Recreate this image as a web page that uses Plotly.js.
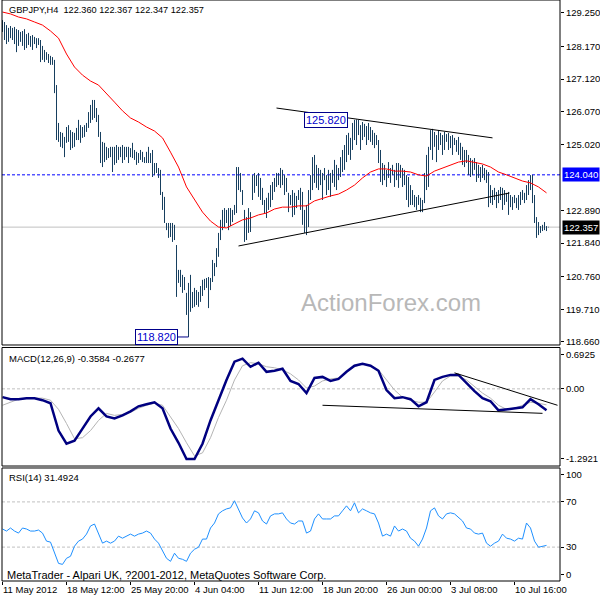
<!DOCTYPE html>
<html>
<head>
<meta charset="utf-8">
<script src="https://cdn.plot.ly/plotly-3.0.1.min.js"></script>
<style>
  html, body { margin: 0; padding: 0; background: #fff; }
  #grafico { width: 600px; height: 600px; }
</style>
</head>
<body>
<div id="grafico"></div>
<script>
/* ========= DADOS (GBPJPY H4) ========= */

// máximas e mínimas de cada barra H4 (uma por barra, da esquerda para a direita)
const barHigh = [
  129.02, 128.96, 128.86, 128.77, 128.83, 128.77, 128.8, 128.73, 128.7, 128.64,
  128.67, 128.73, 128.57, 128.61, 128.51, 128.54, 128.48, 128.44, 128.44, 128.38,
  128.19, 128.06, 127.99, 127.93, 127.87, 127.83, 127.74, 126.93, 125.71, 125.42,
  125.39, 125.26, 125.58, 125.64, 125.48, 125.42, 125.39, 125.55, 125.81, 125.64,
  125.58, 125.64, 125.71, 126.06, 126.29, 126.45, 126.45, 126.19, 125.97, 125.42,
  125.1, 125.07, 124.94, 124.9, 124.94, 124.94, 124.94, 125.0, 124.94, 124.94,
  125.0, 124.94, 124.94, 124.94, 124.9, 125.07, 124.84, 124.78, 124.74, 124.84,
  124.78, 124.61, 124.78, 124.94, 124.74, 124.84, 124.42, 124.42, 124.26, 124.2,
  123.49, 123.33, 122.49, 122.49, 122.49, 122.49, 122.43, 121.78, 120.98, 120.98,
  120.82, 120.75, 120.24, 120.56, 120.82, 120.27, 120.4, 120.33, 120.27, 120.46,
  120.66, 120.69, 120.72, 120.75, 120.72, 121.3, 121.2, 121.68, 122.17, 122.59,
  122.91, 122.97, 122.91, 122.97, 122.97, 122.91, 123.07, 124.29, 124.29, 124.1,
  123.55, 122.91, 122.68, 122.97, 122.84, 124.03, 124.1, 124.03, 124.1, 123.94,
  123.62, 123.23, 123.3, 123.46, 123.71, 123.81, 123.94, 124.1, 124.1, 124.26,
  124.2, 124.03, 123.94, 123.46, 123.39, 123.55, 123.46, 123.36, 123.55, 123.62,
  123.49, 122.91, 123.07, 123.55, 124.03, 124.61, 124.68, 124.36, 124.26, 124.2,
  124.1, 124.26, 124.03, 124.2, 124.1, 124.2, 124.52, 124.36, 124.26, 124.61,
  124.84, 125.0, 125.32, 125.39, 125.23, 125.71, 125.81, 125.82, 125.81, 125.64,
  125.74, 125.68, 125.61, 125.71, 125.58, 125.48, 125.39, 125.32, 125.16, 124.84,
  124.42, 124.36, 124.2, 124.45, 124.26, 124.36, 124.2, 124.42, 124.42, 124.36,
  124.26, 124.2, 124.03, 123.97, 123.71, 123.55, 123.39, 123.33, 123.39, 123.3,
  123.23, 124.1, 124.68, 124.94, 125.48, 125.52, 125.42, 125.32, 125.48, 125.39,
  125.32, 125.42, 125.35, 125.39, 125.29, 125.32, 125.23, 125.16, 125.26, 125.07,
  124.94, 124.84, 124.84, 124.68, 124.58, 124.52, 124.58, 124.45, 124.36, 124.29,
  124.36, 124.26, 124.2, 124.13, 123.71, 123.55, 123.62, 123.49, 123.55, 123.65,
  123.62, 123.55, 123.46, 123.49, 123.39, 123.33, 123.39, 123.3, 123.39, 123.49,
  123.55, 123.46, 123.71, 123.87, 124.03, 124.04, 123.39, 122.68, 122.52, 122.39,
  122.43, 122.52, 122.39, 122.367,
];
const barLow = [
  128.64, 128.38, 128.25, 128.32, 128.44, 128.38, 128.25, 127.99, 128.19, 128.32,
  128.19, 128.06, 128.12, 128.22, 128.16, 128.06, 128.25, 128.12, 128.22, 127.67,
  127.74, 127.67, 127.74, 127.64, 127.58, 127.58, 126.67, 125.16, 125.1, 124.94,
  124.9, 124.61, 125.07, 125.1, 124.84, 124.9, 124.94, 125.16, 125.16, 125.07,
  125.23, 125.26, 125.42, 125.55, 125.71, 125.81, 125.87, 125.74, 125.26, 124.42,
  124.29, 124.45, 124.52, 124.58, 124.61, 124.13, 124.36, 124.42, 124.52, 124.61,
  124.42, 124.52, 124.61, 124.42, 124.61, 124.58, 124.52, 124.36, 124.42, 124.52,
  124.45, 124.42, 124.42, 124.42, 124.42, 123.97, 124.03, 124.1, 123.94, 123.39,
  122.91, 122.49, 122.26, 122.01, 122.04, 121.88, 121.94, 120.11, 120.56, 120.43,
  120.24, 120.33, 119.53, 118.82, 119.63, 119.75, 119.79, 119.85, 119.79, 119.95,
  120.14, 120.33, 120.4, 119.75, 120.33, 120.59, 120.78, 121.07, 121.4, 121.94,
  122.26, 122.36, 122.49, 122.26, 122.39, 122.52, 122.75, 122.81, 123.55, 123.49,
  123.07, 121.88, 121.94, 122.17, 122.2, 123.23, 123.46, 123.68, 123.33, 123.23,
  123.07, 122.81, 122.65, 122.91, 123.0, 123.23, 123.49, 123.65, 123.71, 123.62,
  123.71, 123.39, 123.49, 122.84, 123.07, 122.68, 122.75, 122.97, 123.23, 122.91,
  122.43, 122.17, 122.1, 122.36, 123.23, 123.55, 123.78, 123.62, 123.55, 123.71,
  123.23, 123.87, 123.39, 123.55, 123.33, 123.78, 123.65, 123.55, 123.87, 123.97,
  124.13, 124.2, 124.45, 124.68, 124.52, 124.84, 125.16, 125.0, 125.32, 124.84,
  125.16, 125.26, 125.0, 125.16, 125.1, 125.0, 124.9, 125.0, 124.42, 123.81,
  123.71, 123.87, 123.65, 123.94, 123.78, 124.03, 123.65, 123.87, 123.62, 123.94,
  123.65, 123.71, 123.23, 123.0, 123.07, 123.07, 123.0, 122.91, 123.07, 122.84,
  122.84, 123.13, 123.55, 123.65, 124.84, 124.52, 124.94, 124.45, 124.84, 125.0,
  124.68, 124.84, 125.1, 124.84, 124.9, 124.68, 125.0, 124.78, 124.68, 124.52,
  124.36, 124.29, 124.42, 124.03, 123.97, 124.03, 124.2, 123.81, 123.94, 123.81,
  123.94, 123.87, 123.78, 123.0, 123.13, 123.07, 123.23, 122.97, 123.13, 123.23,
  122.91, 123.07, 123.17, 122.75, 123.0, 122.91, 123.13, 122.97, 122.91, 123.07,
  123.23, 123.13, 123.23, 123.39, 123.55, 123.13, 122.49, 122.01, 122.1, 122.17,
  122.23, 122.26, 122.23, 122.347,
];

// média móvel (vermelha), lida a cada 4 barras
const MA_STEP = 4;
const maValues = [
  129.28, 129.22, 129.12, 129.06, 128.96, 128.86, 128.67, 128.44, 127.93, 127.51,
  127.25, 127.06, 126.93, 126.67, 126.38, 126.1, 125.87, 125.74, 125.58, 125.45,
  125.23, 124.77, 124.29, 123.65, 123.23, 122.84, 122.55, 122.36, 122.33, 122.46,
  122.59, 122.65, 122.75, 122.81, 122.94, 123.0, 123.0, 123.04, 123.04, 123.2,
  123.29, 123.36, 123.42, 123.55, 123.71, 123.94, 124.13, 124.23, 124.23, 124.16,
  124.16, 124.13, 124.04, 124.0, 124.16, 124.26, 124.36, 124.45, 124.49, 124.45,
  124.39, 124.29, 124.13, 124.04, 123.94, 123.84, 123.78, 123.65, 123.46,
];

// MACD(12,26,9), lido a cada 4 barras
const MACD_STEP = 4;
const macdMain = [
  -0.139, -0.173, -0.173, -0.156, -0.156, -0.19, -0.241, -0.699, -0.919, -0.869,
  -0.665, -0.462, -0.326, -0.462, -0.496, -0.444, -0.377, -0.292, -0.258, -0.224,
  -0.326, -0.665, -0.903, -1.174, -1.174, -0.919, -0.529, -0.173, 0.149, 0.455,
  0.506, 0.37, 0.438, 0.285, 0.302, 0.336, 0.132, 0.081, -0.071, 0.183,
  0.2, 0.132, 0.166, 0.285, 0.387, 0.421, 0.387, 0.302, -0.02, -0.156,
  -0.139, -0.173, -0.292, -0.224, 0.149, 0.2, 0.234, 0.234, 0.098, -0.037,
  -0.156, -0.207, -0.36, -0.343, -0.326, -0.309, -0.173, -0.258, -0.358,
];
const macdSignal = [
  -0.275, -0.224, -0.173, -0.156, -0.156, -0.156, -0.19, -0.343, -0.58, -0.835,
  -0.818, -0.699, -0.529, -0.411, -0.444, -0.428, -0.394, -0.326, -0.275, -0.241,
  -0.275, -0.462, -0.665, -0.903, -1.123, -1.072, -0.818, -0.479, -0.19, 0.149,
  0.387, 0.438, 0.421, 0.37, 0.353, 0.319, 0.251, 0.149, 0.014, 0.047,
  0.132, 0.166, 0.183, 0.285, 0.37, 0.421, 0.387, 0.319, 0.149, -0.02,
  -0.139, -0.19, -0.224, -0.224, -0.054, 0.132, 0.217, 0.217, 0.149, 0.031,
  -0.071, -0.156, -0.275, -0.343, -0.326, -0.275, -0.224, -0.241, -0.268,
];

// RSI(14), lido a cada 2 barras
const RSI_STEP = 2;
const rsiValues = [
  46.0, 44.2, 46.9, 44.2, 42.4, 46.9, 46.0, 44.2, 44.2, 45.1,
  42.4, 35.3, 34.4, 24.6, 15.6, 14.7, 20.1, 21.9, 30.8, 35.3,
  37.1, 41.5, 48.7, 50.4, 42.4, 33.5, 35.3, 33.5, 35.3, 39.7,
  37.9, 39.7, 41.5, 39.7, 41.5, 42.4, 44.2, 42.4, 37.1, 33.5,
  26.3, 20.1, 17.4, 24.6, 20.1, 19.2, 17.4, 24.6, 28.1, 29.9,
  37.1, 37.1, 46.9, 51.3, 59.4, 62.1, 63.8, 64.7, 71.0, 63.8,
  55.8, 51.3, 54.9, 62.1, 60.3, 53.1, 50.4, 57.6, 59.4, 59.4,
  60.3, 54.9, 51.3, 50.4, 53.1, 53.1, 42.4, 44.2, 54.9, 59.4,
  54.9, 54.9, 54.9, 57.6, 57.6, 62.1, 66.5, 62.1, 69.2, 60.3,
  63.8, 62.1, 60.3, 59.4, 51.3, 39.7, 41.5, 39.7, 48.7, 44.2,
  46.0, 44.2, 37.9, 35.3, 30.8, 37.1, 46.9, 62.1, 64.7, 57.6,
  54.9, 59.4, 60.3, 59.4, 55.8, 53.1, 46.9, 46.0, 42.4, 41.5,
  42.4, 33.5, 30.8, 33.5, 35.3, 41.5, 37.9, 37.1, 35.3, 37.9,
  37.1, 51.3, 46.9, 35.3, 29.9, 30.8, 31.5,
];

// escalas (123.970 fica escondido sob a etiqueta azul)
const priceTicks = [129.25, 128.17, 127.12, 126.07, 125.02, 122.89, 121.84, 120.76, 119.71, 118.66];
const timeTickBars = [0, 32, 64, 96, 128, 160, 192, 224, 256];
const timeLabels = [
  "11 May 2012", "18 May 12:00", "25 May 20:00", "4 Jun 04:00", "11 Jun 12:00",
  "18 Jun 20:00", "26 Jun 00:00", "3 Jul 08:00", "10 Jul 16:00",
];

// níveis e linhas de tendência desenhadas no gráfico
const resistLevel = 124.04;
const lastPrice = 122.357;
const peakBar = 177, peakPrice = 125.82;
const troughBar = 93, troughPrice = 118.82;
const upperTrendBars = [137, 245], upperTrendPrices = [126.19, 125.23];
const lowerTrendBars = [118, 253.5], lowerTrendPrices = [121.75, 123.455];
const macdLowBars = [160, 270], macdLowValues = [-0.275, -0.41];
const macdHighBars = [226, 277.5], macdHighValues = [0.268, -0.275];

/* ========= RENDERIZAÇÃO ========= */
const FONTE = "Tahoma, 'Liberation Sans', Arial, sans-serif";

function montarBarras() {
  const x = [], y = [];
  barHigh.forEach((h, i) => {
    x.push(i, i, null);
    y.push(barLow[i], h, null);
  });
  return { x, y };
}

function indices(valores, passo) {
  return valores.map((_, k) => k * passo);
}

function linhaH(yref, valor, cor, tracejado) {
  return {
    type: "line", xref: "paper", x0: 0, x1: 1, yref: yref, y0: valor, y1: valor,
    line: { color: cor, width: 1, dash: tracejado ? "3px,2px" : "solid" },
    layer: "below",
  };
}

function tendencia(yref, xs, ys) {
  return {
    type: "line", xref: "x", yref: yref, x0: xs[0], x1: xs[1], y0: ys[0], y1: ys[1],
    line: { color: "#000", width: 1 }, layer: "above",
  };
}

function moldura(yref) {
  return {
    type: "rect", xref: "paper", yref: yref + " domain", x0: 0, x1: 1, y0: 0, y1: 1,
    line: { color: "#000", width: 1 }, layer: "above",
  };
}

function texto(x, y, t, extra) {
  return Object.assign({
    xref: "paper", yref: "paper", x: x, y: y, text: t, showarrow: false,
    xanchor: "left", yanchor: "middle", font: { size: 9.5, color: "#000" },
  }, extra || {});
}

function desenhar() {
  const barras = montarBarras();

  const traces = [
    {
      x: barras.x, y: barras.y, type: "scatter", mode: "lines",
      line: { color: "#173f5f", width: 1 }, hoverinfo: "skip",
    },
    {
      x: indices(maValues, MA_STEP), y: maValues, type: "scatter", mode: "lines",
      line: { color: "#ff0000", width: 1 },
    },
    {
      x: indices(macdSignal, MACD_STEP), y: macdSignal, yaxis: "y2",
      type: "scatter", mode: "lines", line: { color: "#b4b4b4", width: 1 },
    },
    {
      x: indices(macdMain, MACD_STEP), y: macdMain, yaxis: "y2",
      type: "scatter", mode: "lines", line: { color: "#000080", width: 2.5 },
    },
    {
      x: indices(rsiValues, RSI_STEP), y: rsiValues, yaxis: "y3",
      type: "scatter", mode: "lines", line: { color: "#1e90ff", width: 1 },
    },
  ];

  const eixoDireita = {
    side: "right", ticks: "outside", ticklen: 3, tickcolor: "#000",
    showgrid: false, zeroline: false, showline: false, fixedrange: true,
    tickfont: { size: 9.5, color: "#000" },
  };

  const layout = {
    width: 600, height: 600,
    margin: { l: 2, r: 40, t: 0, b: 19 },
    paper_bgcolor: "#fff", plot_bgcolor: "#fff",
    showlegend: false,
    font: { family: FONTE, size: 9.5, color: "#000" },
    xaxis: {
      range: [-0.25, 278.75], anchor: "y3",
      tickmode: "array", tickvals: timeTickBars, ticktext: timeLabels,
      ticks: "outside", ticklen: 3, tickcolor: "#000", tickangle: 0,
      ticklabelposition: "outside right",
      showgrid: false, zeroline: false, showline: false, fixedrange: true,
      tickfont: { size: 9.5, color: "#000" },
    },
    yaxis: Object.assign({}, eixoDireita, {
      domain: [0.4062, 1], range: [118.562, 129.668],
      tickmode: "array", tickvals: priceTicks, tickformat: ".3f",
    }),
    yaxis2: Object.assign({}, eixoDireita, {
      domain: [0.1979, 0.4019], range: [-1.2921, 0.6925],
      tickmode: "array", tickvals: [0.574, 0, -1.174], ticktext: ["0.6925", "0.00", "-1.2921"],
    }),
    yaxis3: Object.assign({}, eixoDireita, {
      domain: [0, 0.1945], range: [0, 100],
      tickmode: "array", tickvals: [94, 70, 30, 5.5], ticktext: ["100", "70", "30", "0"],
    }),
    shapes: [
      linhaH("y", lastPrice, "#c0c0c0", false),
      linhaH("y", resistLevel, "#0000ff", true),
      linhaH("y2", 0, "#c0c0c0", true),
      linhaH("y3", 70, "#c0c0c0", true),
      linhaH("y3", 30, "#c0c0c0", true),
      tendencia("y", upperTrendBars, upperTrendPrices),
      tendencia("y", lowerTrendBars, lowerTrendPrices),
      tendencia("y2", macdLowBars, macdLowValues),
      tendencia("y2", macdHighBars, macdHighValues),
      moldura("y"),
      moldura("y2"),
      moldura("y3"),
    ],
    annotations: [
      texto(0.009, 0.983, "GBPJPY,H4\u00a0\u00a0122.360 122.367 122.347 122.357", { font: { size: 9.2, color: "#000" } }),
      texto(0.009, 0.3838, "MACD(12,26,9) -0.3584 -0.2677"),
      texto(0.009, 0.1773, "RSI(14) 31.4924"),
      texto(0.005, 0.0103, "MetaTrader - Alpari UK, ?2001-2012, MetaQuotes Software Corp.", { font: { size: 11, color: "#000" } }),
      texto(0.697, 0.48, "ActionForex.com", { xanchor: "center", font: { size: 24, color: "#b8b8b8" } }),
      {
        xref: "x", yref: "y", x: peakBar, y: peakPrice, text: "125.820", showarrow: false,
        xanchor: "right", yanchor: "middle", xshift: -9,
        bgcolor: "#fff", bordercolor: "#00008b", borderwidth: 1, borderpad: 1,
        font: { size: 11, color: "#0000cd" },
      },
      {
        xref: "x", yref: "y", x: troughBar, y: troughPrice, text: "118.820",
        showarrow: true, arrowhead: 0, arrowwidth: 1, arrowcolor: "#00008b", ax: -32, ay: 0,
        bgcolor: "#fff", bordercolor: "#00008b", borderwidth: 1, borderpad: 1,
        font: { size: 11, color: "#0000cd" },
      },
      {
        xref: "paper", yref: "y", x: 1, y: resistLevel, text: "124.040", showarrow: false,
        xanchor: "left", yanchor: "middle", xshift: 2,
        bgcolor: "#0000ff", borderpad: 1, font: { size: 9.5, color: "#fff" },
      },
      {
        xref: "paper", yref: "y", x: 1, y: lastPrice, text: "122.357", showarrow: false,
        xanchor: "left", yanchor: "middle", xshift: 2,
        bgcolor: "#000", borderpad: 1, font: { size: 9.5, color: "#fff" },
      },
    ],
  };

  Plotly.newPlot("grafico", traces, layout, { displayModeBar: false, staticPlot: true });
}

document.addEventListener("DOMContentLoaded", desenhar);
</script>
</body>
</html>
